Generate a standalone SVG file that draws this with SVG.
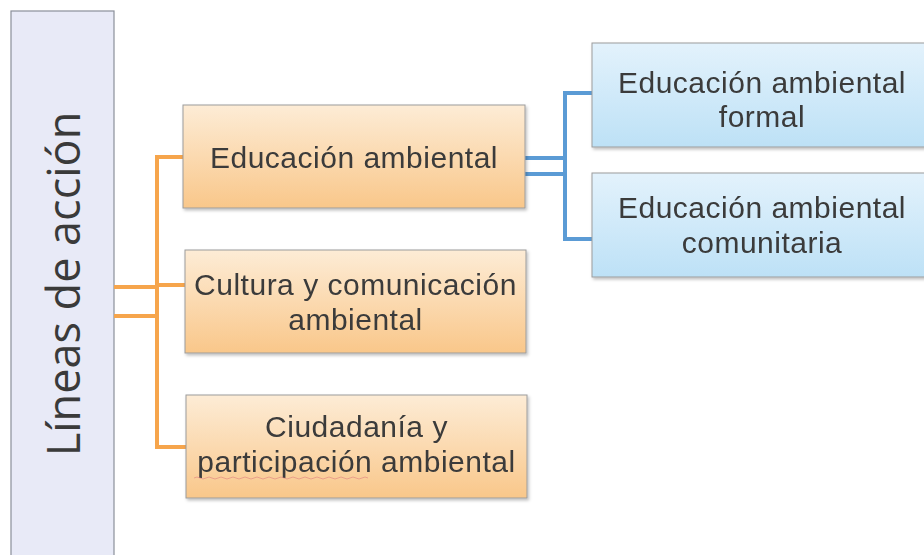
<svg xmlns="http://www.w3.org/2000/svg" width="924" height="555" viewBox="0 0 924 555">
<defs>
<linearGradient id="gOr" x1="0" y1="0" x2="0" y2="1">
<stop offset="0" stop-color="#fdecd6"/>
<stop offset="1" stop-color="#f9c78a"/>
</linearGradient>
<linearGradient id="gBl" x1="0" y1="0" x2="0" y2="1">
<stop offset="0" stop-color="#e3f2fc"/>
<stop offset="1" stop-color="#bde1f6"/>
</linearGradient>
<filter id="sh" x="-5%" y="-5%" width="115%" height="120%">
<feDropShadow dx="1.5" dy="2" stdDeviation="1.5" flood-color="#000" flood-opacity="0.25"/>
</filter>
</defs>
<style>
.t{font-family:"Open Sans","Noto Sans","DejaVu Sans",sans-serif;fill:#3a3a3a;text-anchor:middle}
.m{font-family:"Liberation Sans",Arial,sans-serif;font-size:30px;letter-spacing:0.5px}
.or{fill:url(#gOr);stroke:#9c9c9c;stroke-width:1}
.bl{fill:url(#gBl);stroke:#9c9c9c;stroke-width:1}
.co{fill:none;stroke:#f6a54c;stroke-width:4}
.cb{fill:none;stroke:#5b9bd5;stroke-width:4}
</style>
<rect width="924" height="555" fill="#ffffff"/>
<g id="lineas">
<rect x="11" y="11" width="103" height="560" fill="#e8eaf7" stroke="#8a8f9a" stroke-width="1.2"/>
<text class="t" transform="translate(80,284) rotate(-90)" style="font-size:45px">Líneas de acción</text>
</g>
<g id="connectors">
<path class="co" d="M114 287H157M114 316H157M185 157H157V447H186M157 285H185"/>
<path class="cb" d="M525 158H565M525 174H565M592 93H565V239H592"/>
</g>
<g id="educacion" filter="url(#sh)">
<rect class="or" x="183" y="105" width="342" height="103"/>
<text class="t m" x="354" y="168">Educación ambiental</text>
</g>
<g id="cultura" filter="url(#sh)">
<rect class="or" x="185" y="250" width="341" height="103"/>
<text class="t m" x="355.5" y="295">Cultura y comunicación</text>
<text class="t m" x="355.5" y="330">ambiental</text>
</g>
<g id="ciudadania" filter="url(#sh)">
<rect class="or" x="186" y="395" width="341" height="103"/>
<text class="t m" x="356.5" y="437">Ciudadanía y</text>
<text class="t m" x="356.5" y="472">participación ambiental</text>
<path d="M194 478q3-2 6 0t6 0t6 0t6 0t6 0t6 0t6 0t6 0t6 0t6 0t6 0t6 0t6 0t6 0t6 0t6 0t6 0t6 0t6 0t6 0t6 0t6 0t6 0t6 0t6 0t6 0t6 0t6 0t6 0" fill="none" stroke="#e08080" stroke-width="1" opacity="0.6"/>
</g>
<g id="formal" filter="url(#sh)">
<rect class="bl" x="592" y="43" width="345" height="104"/>
<text class="t m" x="762" y="93">Educación ambiental</text>
<text class="t m" x="762" y="127">formal</text>
</g>
<g id="comunitaria" filter="url(#sh)">
<rect class="bl" x="592" y="173" width="345" height="104"/>
<text class="t m" x="762" y="218">Educación ambiental</text>
<text class="t m" x="762" y="253">comunitaria</text>
</g>
</svg>
